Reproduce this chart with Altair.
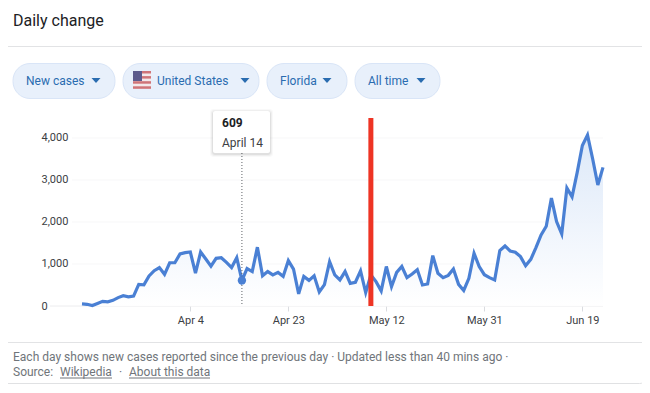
import altair as alt
import pandas as pd

start = pd.Timestamp("2020-03-14")
cases = [50, 40, 10, 60, 110, 100, 135, 200, 245, 220, 235, 515, 505, 715, 840, 915, 755,
         1030, 1030, 1240, 1270, 1285, 780, 1285, 1120, 950, 1135, 1150, 1040, 915, 1150,
         609, 890, 820, 1400, 720, 820, 740, 800, 705, 1080, 880, 290, 705, 610, 720, 335,
         510, 1055, 740, 620, 820, 540, 565, 835, 320, 740, 580, 360, 940, 460, 800, 940,
         675, 760, 865, 500, 525, 1200, 780, 675, 730, 880, 515, 370, 660, 1255, 940, 745,
         675, 620, 1320, 1430, 1310, 1280, 1175, 960, 1110, 1390, 1690, 1900, 2570, 2010,
         1715, 2810, 2600, 3180, 3820, 4070, 3500, 2880, 3300]
dates = [(start + pd.Timedelta(days=i)).strftime("%Y-%m-%d") for i in range(len(cases))]
y_ticks = [0, 1000, 2000, 3000, 4000]
x_ticks = ["2020-04-04", "2020-04-23", "2020-05-12", "2020-05-31", "2020-06-19"]
selected_date = "2020-04-14"
selected_value = 609
selected_label = "April 14"
marked_date = "2020-05-09"
pills = ["New cases", "United States", "Florida", "All time"]

BLUE = "#4a80d4"
FONT = "Roboto"
X0, Y0, W, H = 82, 118, 521, 188
px = lambda v: v - X0
py = lambda v: v - Y0

df = pd.DataFrame({"date": dates, "cases": cases})
xs = alt.Scale(type="utc", domain=[dates[0], dates[-1]])
ys = alt.Scale(domain=[0, 4476], nice=False, zero=False)
one = alt.Data(values=[{}])


def box(x1, y1, x2, y2, **kw):
    return alt.Chart(one).mark_rect(**kw).encode(
        x=alt.value(px(x1)), x2=alt.value(px(x2)), y=alt.value(py(y1)), y2=alt.value(py(y2)))


def label(s, x, y, **kw):
    kw.setdefault("font", FONT)
    kw.setdefault("align", "left")
    kw.setdefault("baseline", "alphabetic")
    return alt.Chart(one).mark_text(text=s, **kw).encode(x=alt.value(px(x)), y=alt.value(py(y)))


def hline(x1, x2, y, color="#e2e3e5"):
    return alt.Chart(one).mark_rule(color=color, strokeWidth=1).encode(
        x=alt.value(px(x1)), x2=alt.value(px(x2)), y=alt.value(py(y)))


layers = []
# card
layers.append(alt.Chart(one).mark_rect(fillOpacity=0, fill="#ffffff", stroke="#e0e1e3", strokeWidth=1, cornerRadius=8).encode(
    x=alt.value(px(-10)), x2=alt.value(px(647.5)), y=alt.value(py(-10)), y2=alt.value(py(383.5))))
layers.append(hline(0, 647, 46.5))
layers.append(hline(0, 647, 342.5))
layers.append(label("Daily change", 13, 26, fontSize=16, color="#202124"))

# pills
pill_boxes = [(13, 115, 26, 96), (123, 259, 157, 245), (267, 347, 280, 327), (355, 440, 368, 421)]
for name, (a, b, t, arrow) in zip(pills, pill_boxes):
    layers.append(box(a, 63.5, b, 98.5, fill="#e8f0fb", stroke="#d9e5f7", strokeWidth=1, cornerRadius=17))
    layers.append(label(name, t, 85, fontSize=12, color="#2a6cb0"))
    layers.append(alt.Chart(one).mark_point(shape="M-1,-0.55L1,-0.55L0,0.55Z", filled=True, color="#2a6cb0", size=80, opacity=1)
                  .encode(x=alt.value(px(arrow)), y=alt.value(py(80.5))))

# flag
layers.append(box(133, 71, 151, 89, fill="#f3e9ea", cornerRadius=2))
for k in range(4):
    layers.append(box(133, 71 + k * 5.1, 151, 73.5 + k * 5.1, fill="#cf7478"))
layers.append(box(133, 71, 142, 81, fill="#5d5b8c"))

# grid
grid = alt.Chart(pd.DataFrame({"v": y_ticks[1:]})).mark_rule(color="#f7f7f8", strokeWidth=1).encode(
    x=alt.value(px(72)), x2=alt.value(px(603)), y=alt.Y("v:Q", scale=ys))
zero = alt.Chart(pd.DataFrame({"v": [0]})).mark_rule(color="#ececee", strokeWidth=1).encode(
    x=alt.value(px(50)), x2=alt.value(px(603)), y=alt.Y("v:Q", scale=ys))
layers += [grid, zero]

base = alt.Chart(df).encode(
    x=alt.X("date:T", scale=xs, title=None,
            axis=alt.Axis(values=x_ticks, format="%b %-d", grid=False, domain=False, tickColor="#dadce0",
                          tickSize=5, labelFont=FONT, labelFontSize=11, labelColor="#3c4043", labelPadding=3,
                          labelFlush=False, labelOverlap=False)),
    y=alt.Y("cases:Q", scale=ys, title=None,
            axis=alt.Axis(values=y_ticks, format=",d", grid=False, domain=False, ticks=False, labelAlign="left",
                          labelPadding=41, labelFont=FONT, labelFontSize=11, labelColor="#3c4043")),
)
area_fill = alt.Gradient(gradient="linear", x1=1, x2=1, y1=1, y2=0,
                         stops=[alt.GradientStop(color="#ffffff", offset=0),
                                alt.GradientStop(color="#d9e6f8", offset=1)])
layers.append(base.mark_area(fill=area_fill, line=False, opacity=0.9))
layers.append(base.mark_line(color=BLUE, strokeWidth=3.2, strokeJoin="miter"))

# selected day
sel = pd.DataFrame({"date": [selected_date], "cases": [selected_value]})
layers.append(alt.Chart(sel).mark_rule(color="#5f6368", strokeWidth=1, strokeDash=[1, 2]).encode(
    x=alt.X("date:T", scale=xs), y=alt.value(py(153)), y2=alt.value(py(306))))
layers.append(alt.Chart(sel).mark_point(filled=True, color=BLUE, size=70, opacity=1).encode(
    x=alt.X("date:T", scale=xs), y=alt.Y("cases:Q", scale=ys)))

# red marker
layers.append(alt.Chart(pd.DataFrame({"date": [marked_date]})).mark_rule(color="#ee3424", strokeWidth=5).encode(
    x=alt.X("date:T", scale=xs), y=alt.value(py(118)), y2=alt.value(py(306))))

# tooltip
for d, o in ((3, 0.025), (2, 0.04), (1, 0.06)):
    layers.append(box(213 - d, 111 - d + 1, 270 + d, 153 + d + 1, fill="#000000", opacity=o, cornerRadius=3))
layers.append(box(213, 111, 270, 153, fill="#ffffff", cornerRadius=2))
layers.append(label(f"{selected_value}", 222, 127, fontSize=12, fontWeight="bold", color="#202124"))
layers.append(label(selected_label, 222, 147, fontSize=12, color="#3c4043"))

# footer
foot = "#70757a"
layers.append(label("Each day shows new cases reported since the previous day · Updated less than 40 mins ago  ·", 13, 361, fontSize=12, color=foot))
layers.append(label("Source:", 13, 376, fontSize=12, color=foot))
layers.append(label("Wikipedia", 60, 376, fontSize=12, color=foot))
layers.append(hline(60, 112, 378, color=foot))
layers.append(label("·", 119, 376, fontSize=12, color=foot))
layers.append(label("About this data", 129, 376, fontSize=12, color=foot))
layers.append(hline(129, 210, 378, color=foot))

chart = alt.layer(*layers).properties(
    width=W, height=H,
    padding={"left": X0 - 8, "top": Y0 - 8, "right": 39, "bottom": 78},
    autosize=alt.AutoSizeParams(type="none", contains="content"),
    background="#ffffff",
).configure_view(stroke=None)

chart.save("out.html", embed_options={"renderer": "svg", "actions": False})
